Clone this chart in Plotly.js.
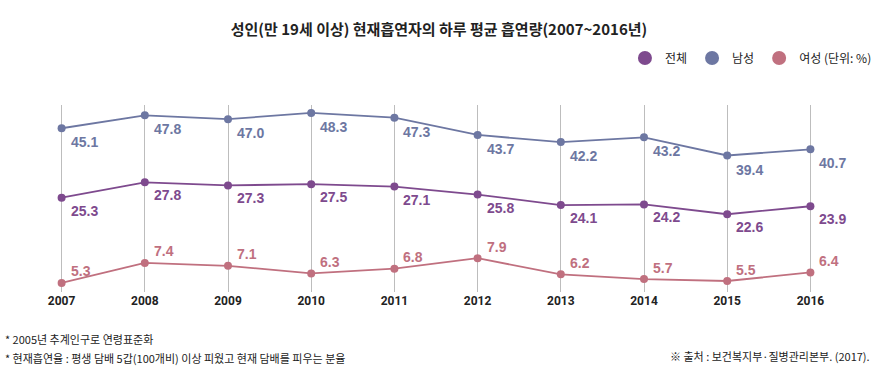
<!DOCTYPE html>
<html>
<head>
<meta charset="utf-8">
<script src="https://cdn.plot.ly/plotly-3.0.1.min.js"></script>
<style>
html,body{margin:0;padding:0;background:#fff;}
#chart{width:878px;height:386px;}
</style>
</head>
<body>
<div id="chart"></div>
<script>
// ---- data ----
const years = [2007, 2008, 2009, 2010, 2011, 2012, 2013, 2014, 2015, 2016];
const total = [25.3, 27.8, 27.3, 27.5, 27.1, 25.8, 24.1, 24.2, 22.6, 23.9];
const male = [45.1, 47.8, 47.0, 48.3, 47.3, 43.7, 42.2, 43.2, 39.4, 40.7];
const female = [5.3, 7.4, 7.1, 6.3, 6.8, 7.9, 6.2, 5.7, 5.5, 6.4];
const seriesNames = ['전체', '남성', '여성 (단위: %)'];
const titleText = '성인(만 19세 이상) 현재흡연자의 하루 평균 흡연량(2007~2016년)';
const note1 = '* 2005년 추계인구로 연령표준화';
const note2 = '* 현재흡연율 : 평생 담배 5갑(100개비) 이상 피웠고 현재 담배를 피우는 분율';
const sourceText = '※ 출처 : 보건복지부·질병관리본부. (2017).';

// ---- styles ----
const cTotal = '#7e4a8e';
const cMale = '#6d77a2';
const cFemale = '#c0707f';
const krFont = '"Noto Sans CJK KR", "Noto Sans", sans-serif';
const numFont = '"Liberation Sans", Arial, sans-serif';

function lineTrace(vals, color, yaxis) {
  return {
    x: years, y: vals, yaxis: yaxis, type: 'scatter', mode: 'lines+markers',
    line: {color: color, width: 1.8},
    marker: {color: color, size: 8},
    showlegend: false, hoverinfo: 'skip', cliponaxis: false
  };
}
function legendTrace(name, color) {
  return {
    x: [null], y: [null], type: 'scatter', mode: 'markers', name: name,
    marker: {color: color, size: 14}, showlegend: true, hoverinfo: 'skip'
  };
}

const traces = [
  lineTrace(male, cMale, 'y'),
  lineTrace(total, cTotal, 'y2'),
  lineTrace(female, cFemale, 'y3'),
  legendTrace(seriesNames[0], cTotal),
  legendTrace(seriesNames[1], cMale),
  legendTrace(seriesNames[2], cFemale)
];

const annotations = [];
function addLabels(vals, color, yref, yshift) {
  vals.forEach((v, i) => {
    annotations.push({
      x: years[i], y: v, xref: 'x', yref: yref, text: v.toFixed(1),
      showarrow: false, xanchor: 'left', yanchor: 'middle',
      xshift: 7, yshift: yshift,
      font: {family: numFont, size: 14, color: color, weight: 700}
    });
  });
}
addLabels(male, cMale, 'y', -14);
addLabels(total, cTotal, 'y2', -13);
addLabels(female, cFemale, 'y3', 11.5);

annotations.push({
  text: note1, xref: 'paper', yref: 'paper', x: -0.020, y: -0.251,
  xanchor: 'left', yanchor: 'middle', showarrow: false,
  font: {family: krFont, size: 11, color: '#222'}
});
annotations.push({
  text: note2, xref: 'paper', yref: 'paper', x: -0.020, y: -0.353,
  xanchor: 'left', yanchor: 'middle', showarrow: false,
  font: {family: krFont, size: 11, color: '#222'}
});
annotations.push({
  text: sourceText, xref: 'paper', yref: 'paper', x: 1.0237, y: -0.342,
  xanchor: 'right', yanchor: 'middle', showarrow: false,
  font: {family: krFont, size: 11, color: '#222'}
});

const layout = {
  width: 878, height: 386,
  margin: {l: 20, r: 26, t: 105, b: 94, autoexpand: false},
  paper_bgcolor: '#fff', plot_bgcolor: '#fff',
  title: {
    text: titleText, x: 0.5, xanchor: 'center', y: 0.922, yanchor: 'middle',
    font: {family: krFont, size: 15, color: '#222', weight: 700}
  },
  xaxis: {
    range: [2006.5, 2016.5], tickvals: years, ticktext: years.map(String),
    showgrid: true, gridcolor: '#bdbdbd', gridwidth: 1,
    zeroline: false, showline: false, ticks: '',
    tickfont: {family: 'Roboto, sans-serif', size: 12, color: '#222', weight: 700},
    fixedrange: true
  },
  yaxis: {range: [10.86, 49.96], visible: false, showgrid: false, zeroline: false, fixedrange: true},
  yaxis2: {range: [9.94, 40.39], overlaying: 'y', visible: false, showgrid: false, zeroline: false, fixedrange: true},
  yaxis3: {range: [4.342, 24.04], overlaying: 'y', visible: false, showgrid: false, zeroline: false, fixedrange: true},
  legend: {
    orientation: 'h', x: 1.03, xanchor: 'right', y: 1.251, yanchor: 'middle',
    font: {family: krFont, size: 12, color: '#222'},
    bgcolor: 'rgba(0,0,0,0)', itemclick: false, itemdoubleclick: false
  },
  annotations: annotations,
  showlegend: true
};

Plotly.newPlot('chart', traces, layout, {displayModeBar: false, staticPlot: true});
</script>
</body>
</html>
